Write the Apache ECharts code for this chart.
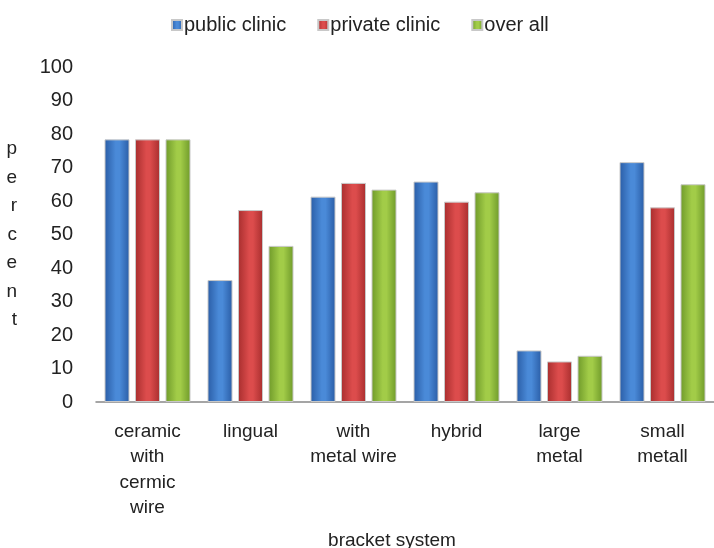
<!DOCTYPE html>
<html>
<head>
<meta charset="utf-8">
<script src="https://cdn.jsdelivr.net/npm/echarts@6/dist/echarts.min.js"></script>
<style>
  html, body { margin: 0; padding: 0; background: #fff; }
  #chart { width: 714px; height: 548px; }
</style>
</head>
<body>
<div id="chart"></div>
<script>
// bracket system categories
const categories = ['ceramic\nwith\ncermic\nwire', 'lingual', 'with\nmetal wire', 'hybrid', 'large\nmetal', 'small\nmetall'];
const publicClinic = [78.4, 36.4, 61.3, 65.8, 15.4, 71.6];
const privateClinic = [78.4, 57.3, 65.4, 59.8, 12.1, 58.1];
const overAll = [78.4, 46.6, 63.4, 62.6, 13.8, 65.0];

const FONT = '"Liberation Sans", Arial, sans-serif';

// cylinder-ish shading, dark edges light middle
function shade(dark, light) {
    return new echarts.graphic.LinearGradient(0, 0, 1, 0, [
        { offset: 0, color: dark },
        { offset: 0.45, color: light },
        { offset: 0.6, color: light },
        { offset: 1, color: dark }
    ]);
}

function barSeries(name, data, dark, light) {
    return {
        name: name,
        type: 'bar',
        data: data,
        barWidth: 25,
        barGap: '22%',
        itemStyle: {
            color: shade(dark, light),
            borderColor: '#c8c8c8',
            borderWidth: 1
        }
    };
}

let myChart = echarts.init(document.getElementById('chart'));

let option = {
    backgroundColor: '#fff',
    animation: false,
    textStyle: { fontFamily: FONT },
    legend: {
        top: 10,
        left: 166,
        itemWidth: 10,
        itemHeight: 10,
        itemGap: 31,
        icon: 'rect',
        textStyle: { fontSize: 20, color: '#222', fontFamily: FONT, padding: [0, 0, 0, -3] },
        data: ['public clinic', 'private clinic', 'over all']
    },
    grid: { left: 96, top: 67, width: 624, height: 335 },
    xAxis: {
        type: 'category',
        data: categories,
        axisLine: { lineStyle: { color: '#888', width: 1.5 } },
        axisTick: { show: false },
        axisLabel: {
            interval: 0,
            margin: 17,
            fontSize: 19,
            lineHeight: 25.5,
            color: '#222',
            fontFamily: FONT
        }
    },
    yAxis: {
        type: 'value',
        min: 0,
        max: 100,
        interval: 10,
        name: 'p\ne\nr\nc\ne\nn\nt',
        nameLocation: 'middle',
        nameRotate: 0,
        nameGap: 79,
        nameTextStyle: { fontSize: 19, lineHeight: 28.5, color: '#222', fontFamily: FONT },
        axisLine: { show: false },
        axisTick: { show: false },
        splitLine: { show: false },
        axisLabel: { margin: 23, fontSize: 20, color: '#222', fontFamily: FONT }
    },
    graphic: [{
        type: 'text',
        x: 392,
        y: 541,
        style: {
            text: 'bracket system',
            fontSize: 19,
            fontFamily: FONT,
            fill: '#222',
            align: 'center',
            verticalAlign: 'middle'
        }
    }],
    series: [
        barSeries('public clinic', publicClinic, '#2a5da6', '#4a8ad8'),
        barSeries('private clinic', privateClinic, '#a82e2e', '#dc4c4c'),
        barSeries('over all', overAll, '#6f9a2a', '#a2cc48')
    ]
};

myChart.setOption(option);
</script>
</body>
</html>
